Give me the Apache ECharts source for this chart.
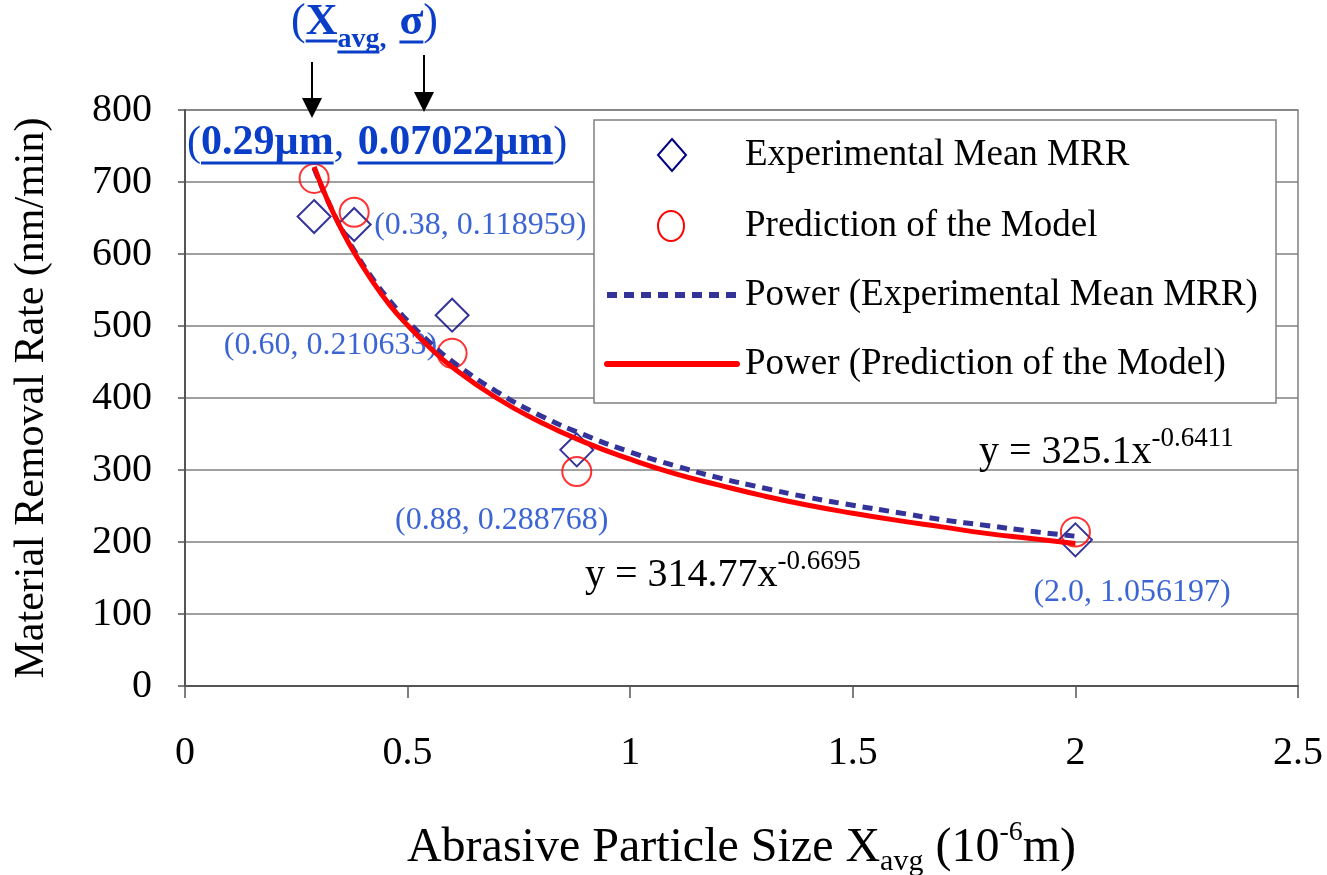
<!DOCTYPE html>
<html>
<head>
<meta charset="utf-8">
<script src="https://cdn.jsdelivr.net/npm/echarts@6/dist/echarts.min.js"></script>
<style>
  html, body { margin: 0; padding: 0; background: #fff; }
  #chart { width: 1327px; height: 875px; }
</style>
</head>
<body>
<div id="chart"></div>
<script>
// ---- data ----
const particleSize   = [0.29, 0.38, 0.60, 0.88, 2.0];      // X_avg (10^-6 m)
const experimentalMRR = [652, 641, 515, 328, 203];          // nm/min
const predictedMRR    = [705, 658, 462, 298, 214];          // nm/min
const sizeText  = ['0.29', '0.38', '0.60', '0.88', '2.0'];
const sigmaText = ['0.07022', '0.118959', '0.210633', '0.288768', '1.056197'];

// power trend lines, sampled along the fitted curves
const trendX = [0.29, 0.32, 0.35, 0.38, 0.42, 0.46, 0.5, 0.55, 0.6, 0.7, 0.8, 0.9,
                1.0, 1.1, 1.2, 1.3, 1.4, 1.5, 1.6, 1.7, 1.8, 1.9, 2.0];
const trendExperimental = [719, 675, 637, 605, 567, 535, 507, 477, 451, 409, 375, 348,
                           325, 306, 289, 275, 262, 251, 241, 231, 223, 215, 208];
const trendPrediction   = [721, 675, 636, 602, 563, 529, 501, 470, 443, 400, 366, 338,
                           315, 295, 279, 264, 251, 240, 230, 221, 212, 205, 198];

const seriesNames = ['Experimental Mean MRR', 'Prediction of the Model',
                     'Power (Experimental Mean MRR)', 'Power (Prediction of the Model)'];
const fitExperimental = { coef: '325.1',  exp: '-0.6411' };
const fitPrediction   = { coef: '314.77', exp: '-0.6695' };

// ---- styling ----
const FONT = '"Liberation Serif", "Times New Roman", serif';
const LABEL_BLUE = '#0b3ec8';
const NAVY = '#000080';
const RED = '#ff0000';
const TREND_BLUE = '#333399';
const TREND_DASH = [10, 7];

// where each (X_avg, sigma) label sits relative to its point
const labelPlacement = [
  null,
  { align: 'left',   offset: [20, 1] },
  { align: 'right',  offset: [-15, 30] },
  { align: 'center', offset: [-75, 71] },
  { align: 'left',   offset: [-42, 53] }
];

const chart = echarts.init(document.getElementById('chart'), null, { renderer: 'canvas' });

const measureCtx = document.createElement('canvas').getContext('2d');
function textWidth(text, font) { measureCtx.font = font; return measureCtx.measureText(text).width; }

// lays out a run of text pieces on a common baseline, with optional underline
function textRun(pieces, x0, baseline, color) {
  const els = [];
  let x = x0;
  pieces.forEach(p => {
    const font = (p.bold ? 'bold ' : '') + p.size + 'px ' + FONT;
    const w = textWidth(p.text, font);
    const b = baseline + (p.dy || 0);
    els.push({
      type: 'text', x: x, y: b - 0.32 * p.size, z: 100,
      style: { text: p.text, font: font, fill: color, textAlign: 'left', textVerticalAlign: 'middle' }
    });
    if (p.underline) {
      els.push({
        type: 'line', z: 100,
        shape: { x1: x, y1: b + p.underline, x2: x + w, y2: b + p.underline },
        style: { stroke: color, lineWidth: 3 }
      });
    }
    x += w + (p.gap || 0);
  });
  return els;
}

function arrow(x, y1, y2) {
  return [
    { type: 'line', z: 100, shape: { x1: x, y1: y1, x2: x, y2: y2 - 18 }, style: { stroke: '#000', lineWidth: 2 } },
    { type: 'polygon', z: 100, shape: { points: [[x - 10, y2 - 20], [x + 10, y2 - 20], [x, y2]] }, style: { fill: '#000' } }
  ];
}

// boxed legend: marker key on the left, series name on the right
function legendBox() {
  const box = { x: 594, y: 120, width: 682, height: 283 };
  const keyL = 607, keyR = 737, keyC = 672, textX = 745;
  const rows = [155, 226, 295, 364];
  const els = [
    { type: 'rect', z: 50, shape: box, style: { fill: '#fff', stroke: '#808080', lineWidth: 1.5 } },
    { type: 'polygon', z: 51,
      shape: { points: [[keyC, rows[0] - 16], [keyC + 14, rows[0]], [keyC, rows[0] + 16], [keyC - 14, rows[0]]] },
      style: { fill: 'none', stroke: NAVY, lineWidth: 2 } },
    { type: 'ellipse', z: 51, shape: { cx: keyC - 1, cy: rows[1], rx: 13, ry: 15 },
      style: { fill: 'none', stroke: RED, lineWidth: 2 } },
    { type: 'line', z: 51, shape: { x1: keyL, y1: rows[2], x2: keyR, y2: rows[2] },
      style: { stroke: TREND_BLUE, lineWidth: 6, lineDash: TREND_DASH } },
    { type: 'line', z: 51, shape: { x1: keyL, y1: rows[3], x2: keyR, y2: rows[3] },
      style: { stroke: RED, lineWidth: 6, lineCap: 'round' } }
  ];
  seriesNames.forEach((name, i) => {
    els.push({ type: 'text', z: 51, x: textX, y: rows[i],
      style: { text: name, font: '37px ' + FONT, fill: '#000', textAlign: 'left', textVerticalAlign: 'middle' } });
  });
  return els;
}

const graphics = [].concat(
  legendBox(),
  textRun([
    { text: '(', size: 44 },
    { text: 'X', size: 44, bold: true, underline: 4 },
    { text: 'avg', size: 28, bold: true, dy: 12, underline: 3 },
    { text: ', ', size: 28, bold: true, dy: 12, gap: 6 },
    { text: '\u03c3', size: 44, bold: true, underline: 5 },
    { text: ')', size: 44 }
  ], 291, 37, LABEL_BLUE),
  arrow(312, 62, 118),
  arrow(424, 55, 112),
  textRun([
    { text: '(', size: 42 },
    { text: sizeText[0] + '\u00b5m', size: 42, bold: true, underline: 6 },
    { text: ', ', size: 42, gap: 3 },
    { text: sigmaText[0] + '\u00b5m', size: 42, bold: true, underline: 6 },
    { text: ')', size: 42 }
  ], 187, 157, LABEL_BLUE),
  textRun([
    { text: 'y = ' + fitExperimental.coef + 'x', size: 40 },
    { text: fitExperimental.exp, size: 27, dy: -17 }
  ], 979, 465, '#000'),
  textRun([
    { text: 'y = ' + fitPrediction.coef + 'x', size: 40 },
    { text: fitPrediction.exp, size: 27, dy: -17 }
  ], 585, 588, '#000')
);

const experimentalData = particleSize.map((x, i) => {
  const item = { value: [x, experimentalMRR[i]] };
  const pl = labelPlacement[i];
  if (pl) {
    item.label = {
      show: true, position: 'inside', align: pl.align, verticalAlign: 'middle', offset: pl.offset,
      formatter: '(' + sizeText[i] + ', ' + sigmaText[i] + ')',
      fontFamily: FONT, fontSize: 32, color: LABEL_BLUE
    };
  }
  return item;
});

const option = {
  animation: false,
  backgroundColor: '#fff',
  textStyle: { fontFamily: FONT },
  grid: {
    left: 185, right: 29, top: 110, bottom: 189,
    containLabel: false, outerBoundsMode: 'none',
    show: true, borderColor: '#808080', borderWidth: 1.5, backgroundColor: 'transparent'
  },
  xAxis: {
    type: 'value', min: 0, max: 2.5, interval: 0.5,
    name: 'Abrasive Particle Size X{sub|avg} (10{sup|-6}m)',
    nameLocation: 'middle', nameGap: 133,
    nameTextStyle: {
      fontFamily: FONT, fontSize: 48, color: '#000', lineHeight: 58,
      rich: {
        sub: { fontFamily: FONT, fontSize: 30, lineHeight: 34, verticalAlign: 'bottom', color: '#000' },
        sup: { fontFamily: FONT, fontSize: 28, lineHeight: 28, verticalAlign: 'top', color: '#000' }
      }
    },
    axisLine: { lineStyle: { color: '#555', width: 2 } },
    axisTick: { length: 12, lineStyle: { color: '#555', width: 1.5 } },
    axisLabel: { fontFamily: FONT, fontSize: 40, color: '#000', margin: 47 },
    splitLine: { show: false }
  },
  yAxis: {
    type: 'value', min: 0, max: 800, interval: 100,
    name: 'Material Removal Rate (nm/min)',
    nameLocation: 'middle', nameGap: 132, nameRotate: 90,
    nameTextStyle: { fontFamily: FONT, fontSize: 42, color: '#000' },
    axisLine: { show: true, lineStyle: { color: '#555', width: 2 } },
    axisTick: { show: true, length: 7, lineStyle: { color: '#555', width: 1.5 } },
    axisLabel: { fontFamily: FONT, fontSize: 40, color: '#000', margin: 33 },
    splitLine: { lineStyle: { color: '#808080', width: 1.5 } }
  },
  series: [
    {
      name: seriesNames[0], type: 'scatter', z: 2,
      symbol: 'diamond', symbolSize: 33,
      itemStyle: { color: 'rgba(255,255,255,0)', borderColor: NAVY, borderWidth: 2 },
      data: experimentalData
    },
    {
      name: seriesNames[1], type: 'scatter', z: 2,
      symbol: 'circle', symbolSize: 29,
      itemStyle: { color: 'rgba(255,255,255,0)', borderColor: RED, borderWidth: 2 },
      data: particleSize.map((x, i) => [x, predictedMRR[i]])
    },
    {
      name: seriesNames[2], type: 'line', z: 3,
      symbol: 'none', smooth: true,
      lineStyle: { color: TREND_BLUE, width: 5, type: TREND_DASH },
      data: trendX.map((x, i) => [x, trendExperimental[i]])
    },
    {
      name: seriesNames[3], type: 'line', z: 4,
      symbol: 'none', smooth: true,
      lineStyle: { color: RED, width: 5 },
      data: trendX.map((x, i) => [x, trendPrediction[i]])
    }
  ],
  graphic: graphics
};

chart.setOption(option);
</script>
</body>
</html>
